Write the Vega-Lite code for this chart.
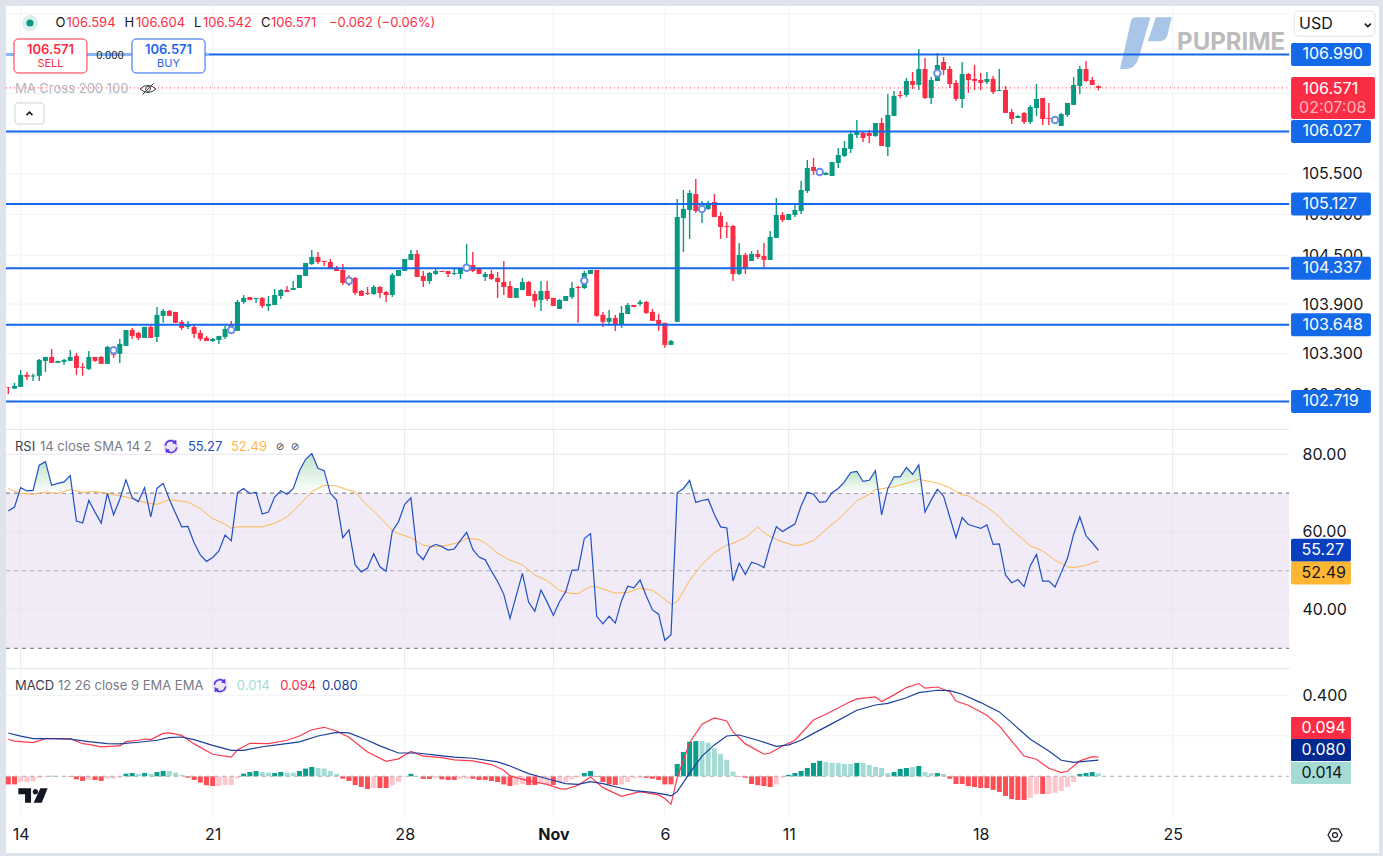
{"$schema":"https://vega.github.io/schema/vega-lite/v6.json","padding":{"left":5,"top":5,"right":5,"bottom":4},"background":"#dfe3ec","spacing":0,"bounds":"flush","config":{"view":{"stroke":null},"concat":{"spacing":0},"text":{"font":"Inter"}},
"datasets":{
"candles":[
{"i":0,"o":102.888,"h":102.894,"l":102.81,"c":102.882},{"i":1,"o":102.873,"h":102.943,"l":102.873,"c":102.907},{"i":2,"o":102.894,"h":103.1,"l":102.894,"c":103.04},{"i":3,"o":103.04,"h":103.076,"l":102.979,"c":103.016},{"i":4,"o":103.02,"h":103.052,"l":102.967,"c":103.032},{"i":5,"o":103.028,"h":103.233,"l":102.967,"c":103.221},{"i":6,"o":103.209,"h":103.257,"l":103.076,"c":103.257},{"i":7,"o":103.257,"h":103.354,"l":103.185,"c":103.185},{"i":8,"o":103.185,"h":103.209,"l":103.185,"c":103.209},{"i":9,"o":103.197,"h":103.233,"l":103.161,"c":103.221},
{"i":10,"o":103.209,"h":103.342,"l":103.209,"c":103.257},{"i":11,"o":103.269,"h":103.306,"l":103.04,"c":103.124},{"i":12,"o":103.136,"h":103.185,"l":103.028,"c":103.124},{"i":13,"o":103.112,"h":103.33,"l":103.1,"c":103.257},{"i":14,"o":103.257,"h":103.257,"l":103.197,"c":103.209},{"i":15,"o":103.257,"h":103.269,"l":103.173,"c":103.173},{"i":16,"o":103.173,"h":103.391,"l":103.173,"c":103.379},{"i":17,"o":103.367,"h":103.379,"l":103.245,"c":103.282},{"i":18,"o":103.294,"h":103.476,"l":103.185,"c":103.415},{"i":19,"o":103.391,"h":103.585,"l":103.391,"c":103.585},
{"i":20,"o":103.585,"h":103.61,"l":103.476,"c":103.512},{"i":21,"o":103.549,"h":103.561,"l":103.463,"c":103.488},{"i":22,"o":103.488,"h":103.622,"l":103.488,"c":103.622},{"i":23,"o":103.622,"h":103.646,"l":103.488,"c":103.488},{"i":24,"o":103.5,"h":103.865,"l":103.439,"c":103.768},{"i":25,"o":103.756,"h":103.841,"l":103.671,"c":103.817},{"i":26,"o":103.817,"h":103.829,"l":103.756,"c":103.756},{"i":27,"o":103.804,"h":103.804,"l":103.671,"c":103.671},{"i":28,"o":103.683,"h":103.707,"l":103.585,"c":103.61},{"i":29,"o":103.622,"h":103.695,"l":103.597,"c":103.646},
{"i":30,"o":103.622,"h":103.646,"l":103.488,"c":103.537},{"i":31,"o":103.549,"h":103.585,"l":103.451,"c":103.476},{"i":32,"o":103.488,"h":103.512,"l":103.451,"c":103.451},{"i":33,"o":103.451,"h":103.488,"l":103.439,"c":103.476},{"i":34,"o":103.463,"h":103.512,"l":103.415,"c":103.512},{"i":35,"o":103.5,"h":103.634,"l":103.476,"c":103.597},{"i":36,"o":103.658,"h":103.695,"l":103.561,"c":103.561},{"i":37,"o":103.573,"h":103.95,"l":103.573,"c":103.926},{"i":38,"o":103.926,"h":104.011,"l":103.902,"c":103.975},{"i":39,"o":103.987,"h":103.987,"l":103.95,"c":103.95},
{"i":40,"o":103.962,"h":103.975,"l":103.914,"c":103.975},{"i":41,"o":103.975,"h":103.987,"l":103.853,"c":103.877},{"i":42,"o":103.877,"h":103.999,"l":103.817,"c":103.902},{"i":43,"o":103.889,"h":104.084,"l":103.889,"c":104.011},{"i":44,"o":103.999,"h":104.084,"l":103.962,"c":104.072},{"i":45,"o":104.072,"h":104.121,"l":104.048,"c":104.048},{"i":46,"o":104.072,"h":104.182,"l":104.072,"c":104.096},{"i":47,"o":104.096,"h":104.256,"l":104.096,"c":104.256},{"i":48,"o":104.244,"h":104.403,"l":104.244,"c":104.403},{"i":49,"o":104.39,"h":104.562,"l":104.378,"c":104.476},
{"i":50,"o":104.476,"h":104.538,"l":104.39,"c":104.415},{"i":51,"o":104.427,"h":104.427,"l":104.366,"c":104.415},{"i":52,"o":104.415,"h":104.452,"l":104.329,"c":104.329},{"i":53,"o":104.341,"h":104.366,"l":104.305,"c":104.305},{"i":54,"o":104.317,"h":104.39,"l":104.133,"c":104.158},{"i":55,"o":104.231,"h":104.256,"l":104.121,"c":104.145},{"i":56,"o":104.219,"h":104.231,"l":104.011,"c":104.036},{"i":57,"o":104.06,"h":104.072,"l":103.999,"c":103.999},{"i":58,"o":104.036,"h":104.109,"l":104.011,"c":104.023},{"i":59,"o":104.023,"h":104.133,"l":104.011,"c":104.109},
{"i":60,"o":104.109,"h":104.121,"l":103.975,"c":104.036},{"i":61,"o":104.048,"h":104.06,"l":103.926,"c":104.011},{"i":62,"o":104.011,"h":104.28,"l":103.987,"c":104.256},{"i":63,"o":104.244,"h":104.317,"l":104.244,"c":104.317},{"i":64,"o":104.305,"h":104.452,"l":104.305,"c":104.452},{"i":65,"o":104.44,"h":104.562,"l":104.44,"c":104.513},{"i":66,"o":104.513,"h":104.562,"l":104.231,"c":104.231},{"i":67,"o":104.244,"h":104.305,"l":104.109,"c":104.182},{"i":68,"o":104.182,"h":104.293,"l":104.145,"c":104.28},{"i":69,"o":104.268,"h":104.329,"l":104.256,"c":104.305},
{"i":70,"o":104.305,"h":104.305,"l":104.293,"c":104.293},{"i":71,"o":104.305,"h":104.305,"l":104.231,"c":104.268},{"i":72,"o":104.268,"h":104.329,"l":104.256,"c":104.28},{"i":73,"o":104.268,"h":104.341,"l":104.207,"c":104.329},{"i":74,"o":104.329,"h":104.636,"l":104.329,"c":104.366},{"i":75,"o":104.378,"h":104.538,"l":104.293,"c":104.305},{"i":76,"o":104.329,"h":104.341,"l":104.268,"c":104.268},{"i":77,"o":104.231,"h":104.293,"l":104.182,"c":104.268},{"i":78,"o":104.268,"h":104.317,"l":104.195,"c":104.207},{"i":79,"o":104.219,"h":104.293,"l":103.975,"c":104.17},
{"i":80,"o":104.17,"h":104.427,"l":104.011,"c":104.109},{"i":81,"o":104.121,"h":104.182,"l":103.975,"c":103.975},{"i":82,"o":103.975,"h":104.096,"l":103.975,"c":104.096},{"i":83,"o":104.072,"h":104.219,"l":104.072,"c":104.17},{"i":84,"o":104.17,"h":104.182,"l":103.999,"c":103.999},{"i":85,"o":104.023,"h":104.06,"l":103.865,"c":103.938},{"i":86,"o":103.95,"h":104.182,"l":103.817,"c":104.06},{"i":87,"o":104.06,"h":104.182,"l":103.938,"c":103.962},{"i":88,"o":103.975,"h":103.975,"l":103.877,"c":103.877},{"i":89,"o":103.841,"h":103.962,"l":103.841,"c":103.95},
{"i":90,"o":103.938,"h":103.999,"l":103.938,"c":103.999},{"i":91,"o":103.987,"h":104.17,"l":103.962,"c":104.096},{"i":92,"o":104.109,"h":104.121,"l":103.671,"c":104.096},{"i":93,"o":104.096,"h":104.305,"l":104.084,"c":104.28},{"i":94,"o":104.268,"h":104.317,"l":104.268,"c":104.317},{"i":95,"o":104.317,"h":104.317,"l":103.744,"c":103.756},{"i":96,"o":103.768,"h":103.804,"l":103.622,"c":103.683},{"i":97,"o":103.683,"h":103.829,"l":103.634,"c":103.731},{"i":98,"o":103.731,"h":103.768,"l":103.573,"c":103.646},{"i":99,"o":103.646,"h":103.877,"l":103.61,"c":103.792},
{"i":100,"o":103.78,"h":103.914,"l":103.78,"c":103.889},{"i":101,"o":103.889,"h":103.889,"l":103.865,"c":103.865},{"i":102,"o":103.902,"h":103.95,"l":103.877,"c":103.926},{"i":103,"o":103.926,"h":103.938,"l":103.78,"c":103.792},{"i":104,"o":103.804,"h":103.841,"l":103.695,"c":103.695},{"i":105,"o":103.707,"h":103.78,"l":103.573,"c":103.646},{"i":106,"o":103.671,"h":103.671,"l":103.367,"c":103.403},{"i":107,"o":103.403,"h":103.463,"l":103.403,"c":103.451},{"i":108,"o":103.683,"h":105.19,"l":103.683,"c":104.968},{"i":109,"o":104.956,"h":105.301,"l":104.538,"c":105.067},
{"i":110,"o":105.054,"h":105.301,"l":104.698,"c":105.264},{"i":111,"o":105.252,"h":105.438,"l":105.017,"c":105.042},{"i":112,"o":105.042,"h":105.165,"l":104.894,"c":105.116},{"i":113,"o":105.067,"h":105.165,"l":105.054,"c":105.129},{"i":114,"o":105.153,"h":105.252,"l":104.968,"c":104.968},{"i":115,"o":104.98,"h":105.03,"l":104.698,"c":104.845},{"i":116,"o":104.857,"h":104.906,"l":104.71,"c":104.845},{"i":117,"o":104.857,"h":104.87,"l":104.182,"c":104.268},{"i":118,"o":104.268,"h":104.648,"l":104.256,"c":104.501},{"i":119,"o":104.501,"h":104.525,"l":104.268,"c":104.329},
{"i":120,"o":104.427,"h":104.55,"l":104.427,"c":104.513},{"i":121,"o":104.513,"h":104.562,"l":104.452,"c":104.476},{"i":122,"o":104.489,"h":104.648,"l":104.341,"c":104.44},{"i":123,"o":104.44,"h":104.796,"l":104.44,"c":104.722},{"i":124,"o":104.71,"h":105.202,"l":104.71,"c":104.993},{"i":125,"o":104.993,"h":105.03,"l":104.906,"c":104.931},{"i":126,"o":104.931,"h":105.005,"l":104.931,"c":105.005},{"i":127,"o":104.993,"h":105.14,"l":104.968,"c":105.054},{"i":128,"o":105.042,"h":105.413,"l":105.005,"c":105.301},{"i":129,"o":105.289,"h":105.673,"l":105.264,"c":105.574},
{"i":130,"o":105.586,"h":105.698,"l":105.487,"c":105.537},{"i":131,"o":105.512,"h":105.549,"l":105.5,"c":105.537},{"i":132,"o":105.487,"h":105.524,"l":105.487,"c":105.512},{"i":133,"o":105.475,"h":105.648,"l":105.475,"c":105.648},{"i":134,"o":105.636,"h":105.822,"l":105.574,"c":105.735},{"i":135,"o":105.723,"h":105.909,"l":105.71,"c":105.822},{"i":136,"o":105.81,"h":106.045,"l":105.76,"c":105.996},{"i":137,"o":105.983,"h":106.17,"l":105.946,"c":106.02},{"i":138,"o":106.008,"h":106.033,"l":105.897,"c":105.946},{"i":139,"o":106.008,"h":106.045,"l":105.884,"c":105.971},
{"i":140,"o":105.971,"h":106.133,"l":105.959,"c":106.133},{"i":141,"o":106.133,"h":106.195,"l":105.847,"c":105.847},{"i":142,"o":105.835,"h":106.496,"l":105.723,"c":106.233},{"i":143,"o":106.22,"h":106.533,"l":106.22,"c":106.471},{"i":144,"o":106.483,"h":106.533,"l":106.445,"c":106.471},{"i":145,"o":106.483,"h":106.695,"l":106.458,"c":106.658},{"i":146,"o":106.658,"h":106.77,"l":106.558,"c":106.608},{"i":147,"o":106.608,"h":107.059,"l":106.545,"c":106.808},{"i":148,"o":106.808,"h":106.946,"l":106.433,"c":106.445},{"i":149,"o":106.445,"h":106.708,"l":106.37,"c":106.67},
{"i":150,"o":106.658,"h":107.009,"l":106.658,"c":106.858},{"i":151,"o":106.896,"h":106.958,"l":106.733,"c":106.795},{"i":152,"o":106.808,"h":106.846,"l":106.57,"c":106.62},{"i":153,"o":106.633,"h":106.67,"l":106.408,"c":106.433},{"i":154,"o":106.433,"h":106.896,"l":106.32,"c":106.745},{"i":155,"o":106.745,"h":106.758,"l":106.508,"c":106.67},{"i":156,"o":106.683,"h":106.858,"l":106.545,"c":106.658},{"i":157,"o":106.67,"h":106.758,"l":106.545,"c":106.633},{"i":158,"o":106.645,"h":106.77,"l":106.62,"c":106.683},{"i":159,"o":106.683,"h":106.72,"l":106.495,"c":106.52},
{"i":160,"o":106.533,"h":106.808,"l":106.533,"c":106.545},{"i":161,"o":106.545,"h":106.595,"l":106.258,"c":106.258},{"i":162,"o":106.27,"h":106.308,"l":106.12,"c":106.183},{"i":163,"o":106.195,"h":106.233,"l":106.195,"c":106.22},{"i":164,"o":106.258,"h":106.27,"l":106.12,"c":106.145},{"i":165,"o":106.145,"h":106.358,"l":106.12,"c":106.333},{"i":166,"o":106.32,"h":106.62,"l":106.22,"c":106.433},{"i":167,"o":106.445,"h":106.445,"l":106.108,"c":106.183},{"i":168,"o":106.195,"h":106.383,"l":106.108,"c":106.183},{"i":169,"o":106.183,"h":106.208,"l":106.133,"c":106.145},
{"i":170,"o":106.095,"h":106.258,"l":106.095,"c":106.245},{"i":171,"o":106.233,"h":106.383,"l":106.208,"c":106.383},{"i":172,"o":106.358,"h":106.708,"l":106.358,"c":106.608},{"i":173,"o":106.595,"h":106.846,"l":106.495,"c":106.808},{"i":174,"o":106.808,"h":106.908,"l":106.645,"c":106.658},{"i":175,"o":106.67,"h":106.708,"l":106.608,"c":106.608},{"i":176,"o":106.594,"h":106.604,"l":106.542,"c":106.571}],
"rsi":[{"i":0,"v":65.4},{"i":1,"v":66.4},{"i":2,"v":71.4},{"i":3,"v":70.55},{"i":4,"v":70.7},{"i":5,"v":77.2},{"i":6,"v":78.1},{"i":7,"v":72},{"i":8,"v":72.5},{"i":9,"v":72.9},{"i":10,"v":74.5},{"i":11,"v":62.8},{"i":12,"v":62.3},{"i":13,"v":68.1},{"i":14,"v":65.1},{"i":15,"v":62.3},{"i":16,"v":69.95},{"i":17,"v":64.4},{"i":18,"v":68.4},{"i":19,"v":73.4},{"i":20,"v":68.8},{"i":21,"v":67.8},{"i":22,"v":71.4},{"i":23,"v":63.85},{"i":24,"v":71.2},{"i":25,"v":72.5},{"i":26,"v":68.4},{"i":27,"v":64.8},{"i":28,"v":61.3},{"i":29,"v":61.4},{"i":30,"v":57.2},{"i":31,"v":54.05},{"i":32,"v":52.4},{"i":33,"v":53.4},{"i":34,"v":55.1},{"i":35,"v":59.2},{"i":36,"v":57.7},{"i":37,"v":70.1},{"i":38,"v":71.2},{"i":39,"v":69.9},{"i":40,"v":70.2},{"i":41,"v":64.6},{"i":42,"v":65.1},{"i":43,"v":69},{"i":44,"v":70.6},{"i":45,"v":69.7},{"i":46,"v":71.15},{"i":47,"v":75.7},{"i":48,"v":78.7},{"i":49,"v":80.2},{"i":50,"v":76.4},{"i":51,"v":75.8},{"i":52,"v":69.95},{"i":53,"v":68.2},{"i":54,"v":58.5},{"i":55,"v":60.5},{"i":56,"v":51.5},{"i":57,"v":49.7},{"i":58,"v":50.7},{"i":59,"v":54.4},{"i":60,"v":51},{"i":61,"v":49.85},{"i":62,"v":60.2},{"i":63,"v":62.6},{"i":64,"v":67.1},{"i":65,"v":68.8},{"i":66,"v":54.5},{"i":67,"v":52.85},{"i":68,"v":55.95},{"i":69,"v":56.8},{"i":70,"v":56.2},{"i":71,"v":55.3},{"i":72,"v":55.6},{"i":73,"v":57.8},{"i":74,"v":59.9},{"i":75,"v":55.5},{"i":76,"v":53.5},{"i":77,"v":52.8},{"i":78,"v":49.9},{"i":79,"v":47.2},{"i":80,"v":43.9},{"i":81,"v":37.7},{"i":82,"v":43.5},{"i":83,"v":49.3},{"i":84,"v":41.9},{"i":85,"v":39.5},{"i":86,"v":45},{"i":87,"v":41.9},{"i":88,"v":38.5},{"i":89,"v":42},{"i":90,"v":44.6},{"i":91,"v":50.1},{"i":92,"v":50.2},{"i":93,"v":58.3},{"i":94,"v":59.55},{"i":95,"v":38.25},{"i":96,"v":36.3},{"i":97,"v":38.25},{"i":98,"v":36.5},{"i":99,"v":42.2},{"i":100,"v":46},{"i":101,"v":45.6},{"i":102,"v":47.6},{"i":103,"v":43.5},{"i":104,"v":39.9},{"i":105,"v":38.8},{"i":106,"v":32.06},{"i":107,"v":33.5},{"i":108,"v":70.1},{"i":109,"v":71.2},{"i":110,"v":73.3},{"i":111,"v":67.6},{"i":112,"v":68.1},{"i":113,"v":68.4},{"i":114,"v":64.5},{"i":115,"v":61.3},{"i":116,"v":61},{"i":117,"v":47.35},{"i":118,"v":51.9},{"i":119,"v":49},{"i":120,"v":52.2},{"i":121,"v":51.65},{"i":122,"v":50.8},{"i":123,"v":56.6},{"i":124,"v":61.3},{"i":125,"v":60.1},{"i":126,"v":61.1},{"i":127,"v":62},{"i":128,"v":66.7},{"i":129,"v":70.2},{"i":130,"v":69.7},{"i":131,"v":67.6},{"i":132,"v":67.8},{"i":133,"v":70.1},{"i":134,"v":71.2},{"i":135,"v":72.9},{"i":136,"v":75.3},{"i":137,"v":75.6},{"i":138,"v":73},{"i":139,"v":73.3},{"i":140,"v":75.8},{"i":141,"v":64.4},{"i":142,"v":71.2},{"i":143,"v":74.2},{"i":144,"v":74.2},{"i":145,"v":76.6},{"i":146,"v":74.85},{"i":147,"v":77.25},{"i":148,"v":65.1},{"i":149,"v":68.2},{"i":150,"v":71},{"i":151,"v":69.2},{"i":152,"v":63.85},{"i":153,"v":58.5},{"i":154,"v":63.7},{"i":155,"v":61.9},{"i":156,"v":61.4},{"i":157,"v":60.9},{"i":158,"v":61.8},{"i":159,"v":56.8},{"i":160,"v":56.9},{"i":161,"v":48.9},{"i":162,"v":46.9},{"i":163,"v":47.7},{"i":164,"v":45.9},{"i":165,"v":51.3},{"i":166,"v":54.2},{"i":167,"v":47.3},{"i":168,"v":47.3},{"i":169,"v":45.8},{"i":170,"v":49.5},{"i":171,"v":53.2},{"i":172,"v":59.4},{"i":173,"v":63.85},{"i":174,"v":59},{"i":175,"v":57.2},{"i":176,"v":55.27}],
"sma":[{"i":0,"v":71.2},{"i":1,"v":70.46},{"i":2,"v":69.95},{"i":4,"v":69.7},{"i":6,"v":70.3},{"i":8,"v":69.95},{"i":10,"v":70.9},{"i":12,"v":70.2},{"i":14,"v":70.4},{"i":16,"v":69.9},{"i":19,"v":69},{"i":21,"v":68},{"i":23,"v":67.3},{"i":24,"v":67.1},{"i":26,"v":68.3},{"i":29,"v":67.7},{"i":31,"v":66},{"i":33,"v":63.4},{"i":35,"v":62},{"i":36,"v":60.9},{"i":37,"v":61.3},{"i":41,"v":61.3},{"i":43,"v":62.2},{"i":45,"v":63.85},{"i":47,"v":66.9},{"i":49,"v":70.4},{"i":51,"v":72},{"i":53,"v":71.85},{"i":55,"v":70.7},{"i":56,"v":70.4},{"i":58,"v":66.7},{"i":59,"v":65.4},{"i":62,"v":60.4},{"i":63,"v":59.55},{"i":65,"v":58.5},{"i":67,"v":56.55},{"i":69,"v":56.2},{"i":71,"v":56.6},{"i":73,"v":57.4},{"i":74,"v":58.35},{"i":76,"v":58},{"i":77,"v":57.2},{"i":79,"v":54.5},{"i":81,"v":52.7},{"i":83,"v":51.5},{"i":85,"v":48.9},{"i":87,"v":47.4},{"i":89,"v":44.9},{"i":91,"v":44.1},{"i":92,"v":44.1},{"i":94,"v":46},{"i":95,"v":45.8},{"i":98,"v":44.2},{"i":100,"v":44.4},{"i":102,"v":45.5},{"i":104,"v":44.9},{"i":105,"v":43.9},{"i":107,"v":41.3},{"i":108,"v":42},{"i":110,"v":47.5},{"i":112,"v":51.65},{"i":114,"v":54.65},{"i":116,"v":56.6},{"i":117,"v":57.05},{"i":119,"v":58.5},{"i":121,"v":61.3},{"i":122,"v":59.8},{"i":123,"v":58.8},{"i":125,"v":57.4},{"i":127,"v":56.5},{"i":128,"v":56.6},{"i":130,"v":57.75},{"i":133,"v":62},{"i":134,"v":63.25},{"i":137,"v":68},{"i":139,"v":69.7},{"i":140,"v":70.9},{"i":143,"v":71.6},{"i":146,"v":73},{"i":147,"v":73.55},{"i":150,"v":72.6},{"i":152,"v":71.4},{"i":154,"v":69.5},{"i":155,"v":69.3},{"i":158,"v":66.4},{"i":160,"v":63.9},{"i":161,"v":61.95},{"i":163,"v":59.2},{"i":165,"v":56.4},{"i":167,"v":55.1},{"i":169,"v":52.7},{"i":171,"v":51},{"i":172,"v":50.8},{"i":174,"v":51.4},{"i":176,"v":52.49}],
"over":[{"s":"a","i":1.72,"v":70},{"s":"a","i":2,"v":71.4},{"s":"a","i":3,"v":70.55},{"s":"a","i":4,"v":70.7},{"s":"a","i":5,"v":77.2},{"s":"a","i":6,"v":78.1},{"s":"a","i":7,"v":72},{"s":"a","i":8,"v":72.5},{"s":"a","i":9,"v":72.9},{"s":"a","i":10,"v":74.5},{"s":"a","i":10.38,"v":70},{"s":"b","i":45.2,"v":70},{"s":"b","i":46,"v":71.15},{"s":"b","i":47,"v":75.7},{"s":"b","i":48,"v":78.7},{"s":"b","i":49,"v":80.2},{"s":"b","i":50,"v":76.4},{"s":"b","i":51,"v":75.8},{"s":"b","i":52,"v":70},{"s":"c","i":133,"v":70},{"s":"c","i":134,"v":71.2},{"s":"c","i":135,"v":72.9},{"s":"c","i":136,"v":75.3},{"s":"c","i":137,"v":75.6},{"s":"c","i":138,"v":73},{"s":"c","i":139,"v":73.3},{"s":"c","i":140,"v":75.8},{"s":"c","i":140.5,"v":70},{"s":"d","i":141.85,"v":70},{"s":"d","i":142,"v":71.2},{"s":"d","i":143,"v":74.2},{"s":"d","i":144,"v":74.2},{"s":"d","i":145,"v":76.6},{"s":"d","i":146,"v":74.85},{"s":"d","i":147,"v":77.25},{"s":"d","i":147.6,"v":70},{"s":"e","i":107.97,"v":70},{"s":"e","i":108,"v":70.1},{"s":"e","i":109,"v":71.2},{"s":"e","i":110,"v":73.3},{"s":"e","i":110.5,"v":70}],
"macd":[{"i":0,"v":0.183},{"i":1,"v":0.174},{"i":2,"v":0.171},{"i":4,"v":0.166},{"i":6,"v":0.186},{"i":10,"v":0.186},{"i":12,"v":0.161},{"i":13,"v":0.158},{"i":15,"v":0.145},{"i":18,"v":0.15},{"i":19,"v":0.171},{"i":21,"v":0.178},{"i":22,"v":0.184},{"i":23,"v":0.181},{"i":25,"v":0.212},{"i":26,"v":0.214},{"i":28,"v":0.202},{"i":30,"v":0.16},{"i":33,"v":0.109},{"i":36,"v":0.095},{"i":37,"v":0.13},{"i":39,"v":0.163},{"i":42,"v":0.161},{"i":45,"v":0.178},{"i":47,"v":0.199},{"i":49,"v":0.23},{"i":51,"v":0.242},{"i":53,"v":0.224},{"i":55,"v":0.193},{"i":58,"v":0.12},{"i":61,"v":0.074},{"i":63,"v":0.086},{"i":65,"v":0.123},{"i":67,"v":0.1},{"i":70,"v":0.092},{"i":72,"v":0.081},{"i":75,"v":0.076},{"i":78,"v":0.058},{"i":80,"v":0.03},{"i":81,"v":0.002},{"i":84,"v":-0.023},{"i":87,"v":-0.04},{"i":89,"v":-0.061},{"i":90,"v":-0.063},{"i":92,"v":-0.044},{"i":94,"v":-0.003},{"i":96,"v":-0.056},{"i":99,"v":-0.099},{"i":102,"v":-0.076},{"i":105,"v":-0.092},{"i":106,"v":-0.11},{"i":107,"v":-0.138},{"i":108,"v":-0.007},{"i":110,"v":0.166},{"i":112,"v":0.257},{"i":114,"v":0.288},{"i":116,"v":0.273},{"i":117,"v":0.219},{"i":119,"v":0.16},{"i":122,"v":0.109},{"i":123,"v":0.115},{"i":125,"v":0.15},{"i":127,"v":0.178},{"i":130,"v":0.278},{"i":132,"v":0.306},{"i":136,"v":0.369},{"i":137,"v":0.382},{"i":140,"v":0.392},{"i":141,"v":0.369},{"i":143,"v":0.402},{"i":145,"v":0.438},{"i":147,"v":0.458},{"i":148,"v":0.435},{"i":150,"v":0.441},{"i":152,"v":0.418},{"i":153,"v":0.372},{"i":155,"v":0.351},{"i":158,"v":0.301},{"i":160,"v":0.249},{"i":162,"v":0.174},{"i":164,"v":0.1},{"i":166,"v":0.084},{"i":168,"v":0.04},{"i":170,"v":0.018},{"i":171,"v":0.025},{"i":173,"v":0.076},{"i":175,"v":0.097},{"i":176,"v":0.094}],
"signal":[{"i":0,"v":0.214},{"i":2,"v":0.198},{"i":4,"v":0.186},{"i":7,"v":0.186},{"i":10,"v":0.184},{"i":13,"v":0.171},{"i":16,"v":0.161},{"i":18,"v":0.16},{"i":21,"v":0.168},{"i":24,"v":0.178},{"i":26,"v":0.191},{"i":28,"v":0.194},{"i":30,"v":0.181},{"i":33,"v":0.153},{"i":36,"v":0.128},{"i":38,"v":0.128},{"i":41,"v":0.146},{"i":44,"v":0.158},{"i":47,"v":0.17},{"i":50,"v":0.199},{"i":53,"v":0.217},{"i":55,"v":0.214},{"i":58,"v":0.178},{"i":60,"v":0.15},{"i":63,"v":0.115},{"i":66,"v":0.115},{"i":69,"v":0.105},{"i":72,"v":0.095},{"i":75,"v":0.089},{"i":79,"v":0.071},{"i":81,"v":0.051},{"i":84,"v":0.013},{"i":87,"v":-0.012},{"i":90,"v":-0.036},{"i":92,"v":-0.04},{"i":94,"v":-0.026},{"i":96,"v":-0.036},{"i":99,"v":-0.059},{"i":101,"v":-0.071},{"i":104,"v":-0.079},{"i":106,"v":-0.089},{"i":107,"v":-0.097},{"i":108,"v":-0.076},{"i":110,"v":0.016},{"i":112,"v":0.1},{"i":114,"v":0.155},{"i":116,"v":0.199},{"i":118,"v":0.204},{"i":121,"v":0.178},{"i":124,"v":0.148},{"i":126,"v":0.155},{"i":128,"v":0.178},{"i":130,"v":0.212},{"i":133,"v":0.26},{"i":137,"v":0.326},{"i":140,"v":0.352},{"i":142,"v":0.36},{"i":145,"v":0.388},{"i":147,"v":0.413},{"i":150,"v":0.425},{"i":152,"v":0.423},{"i":154,"v":0.405},{"i":157,"v":0.364},{"i":160,"v":0.318},{"i":162,"v":0.265},{"i":165,"v":0.183},{"i":168,"v":0.125},{"i":170,"v":0.079},{"i":172,"v":0.069},{"i":176,"v":0.08}],
"hist":[{"i":0,"v":-0.04,"s":"R"},{"i":1,"v":-0.04,"s":"R"},{"i":2,"v":-0.028,"s":"P"},{"i":3,"v":-0.028,"s":"P"},{"i":4,"v":-0.025,"s":"P"},{"i":5,"v":-0.007,"s":"P"},{"i":6,"v":-0.003,"s":"P"},{"i":7,"v":0.002,"s":"G"},{"i":8,"v":0.002,"s":"L"},{"i":9,"v":-0.002,"s":"P"},{"i":10,"v":-0.002,"s":"R"},{"i":11,"v":-0.015,"s":"R"},{"i":12,"v":-0.023,"s":"R"},{"i":13,"v":-0.016,"s":"P"},{"i":14,"v":-0.018,"s":"R"},{"i":15,"v":-0.023,"s":"R"},{"i":16,"v":-0.012,"s":"P"},{"i":17,"v":-0.012,"s":"P"},{"i":18,"v":-0.007,"s":"P"},{"i":19,"v":0.013,"s":"G"},{"i":20,"v":0.016,"s":"G"},{"i":21,"v":0.012,"s":"L"},{"i":22,"v":0.016,"s":"G"},{"i":23,"v":0.012,"s":"L"},{"i":24,"v":0.021,"s":"G"},{"i":25,"v":0.026,"s":"G"},{"i":26,"v":0.026,"s":"L"},{"i":27,"v":0.018,"s":"L"},{"i":28,"v":0.007,"s":"L"},{"i":29,"v":-0.007,"s":"R"},{"i":30,"v":-0.018,"s":"R"},{"i":31,"v":-0.031,"s":"R"},{"i":32,"v":-0.044,"s":"R"},{"i":33,"v":-0.048,"s":"R"},{"i":34,"v":-0.048,"s":"P"},{"i":35,"v":-0.043,"s":"P"},{"i":36,"v":-0.043,"s":"P"},{"i":37,"v":-0.01,"s":"P"},{"i":38,"v":0.013,"s":"G"},{"i":39,"v":0.021,"s":"G"},{"i":40,"v":0.026,"s":"G"},{"i":41,"v":0.021,"s":"L"},{"i":42,"v":0.018,"s":"L"},{"i":43,"v":0.016,"s":"G"},{"i":44,"v":0.021,"s":"G"},{"i":45,"v":0.018,"s":"L"},{"i":46,"v":0.018,"s":"L"},{"i":47,"v":0.026,"s":"G"},{"i":48,"v":0.038,"s":"G"},{"i":49,"v":0.046,"s":"G"},{"i":50,"v":0.041,"s":"L"},{"i":51,"v":0.038,"s":"L"},{"i":52,"v":0.026,"s":"L"},{"i":53,"v":0.012,"s":"L"},{"i":54,"v":-0.012,"s":"R"},{"i":55,"v":-0.023,"s":"R"},{"i":56,"v":-0.043,"s":"R"},{"i":57,"v":-0.053,"s":"R"},{"i":58,"v":-0.063,"s":"R"},{"i":59,"v":-0.058,"s":"P"},{"i":60,"v":-0.058,"s":"R"},{"i":61,"v":-0.058,"s":"R"},{"i":62,"v":-0.044,"s":"P"},{"i":63,"v":-0.028,"s":"P"},{"i":64,"v":-0.003,"s":"P"},{"i":65,"v":0.012,"s":"G"},{"i":66,"v":-0.001,"s":"R"},{"i":67,"v":-0.013,"s":"R"},{"i":68,"v":-0.013,"s":"R"},{"i":69,"v":-0.01,"s":"P"},{"i":70,"v":-0.015,"s":"R"},{"i":71,"v":-0.018,"s":"R"},{"i":72,"v":-0.018,"s":"R"},{"i":73,"v":-0.012,"s":"P"},{"i":74,"v":-0.012,"s":"P"},{"i":75,"v":-0.012,"s":"R"},{"i":76,"v":-0.018,"s":"R"},{"i":77,"v":-0.018,"s":"R"},{"i":78,"v":-0.023,"s":"R"},{"i":79,"v":-0.028,"s":"R"},{"i":80,"v":-0.04,"s":"R"},{"i":81,"v":-0.048,"s":"R"},{"i":82,"v":-0.043,"s":"P"},{"i":83,"v":-0.038,"s":"P"},{"i":84,"v":-0.043,"s":"R"},{"i":85,"v":-0.043,"s":"R"},{"i":86,"v":-0.031,"s":"P"},{"i":87,"v":-0.04,"s":"P"},{"i":88,"v":-0.043,"s":"R"},{"i":89,"v":-0.028,"s":"P"},{"i":90,"v":-0.028,"s":"P"},{"i":91,"v":-0.015,"s":"P"},{"i":92,"v":-0.007,"s":"P"},{"i":93,"v":0.016,"s":"G"},{"i":94,"v":0.026,"s":"G"},{"i":95,"v":-0.003,"s":"R"},{"i":96,"v":-0.028,"s":"R"},{"i":97,"v":-0.04,"s":"R"},{"i":98,"v":-0.043,"s":"R"},{"i":99,"v":-0.04,"s":"P"},{"i":100,"v":-0.028,"s":"P"},{"i":101,"v":-0.01,"s":"P"},{"i":102,"v":-0.007,"s":"P"},{"i":103,"v":-0.008,"s":"R"},{"i":104,"v":-0.012,"s":"R"},{"i":105,"v":-0.018,"s":"R"},{"i":106,"v":-0.04,"s":"R"},{"i":107,"v":-0.04,"s":"R"},{"i":108,"v":0.061,"s":"G"},{"i":109,"v":0.12,"s":"G"},{"i":110,"v":0.171,"s":"G"},{"i":111,"v":0.174,"s":"G"},{"i":112,"v":0.174,"s":"L"},{"i":113,"v":0.166,"s":"L"},{"i":114,"v":0.138,"s":"L"},{"i":115,"v":0.11,"s":"L"},{"i":116,"v":0.081,"s":"L"},{"i":117,"v":0.023,"s":"L"},{"i":118,"v":-0.002,"s":"R"},{"i":119,"v":-0.007,"s":"R"},{"i":120,"v":-0.038,"s":"R"},{"i":121,"v":-0.044,"s":"R"},{"i":122,"v":-0.048,"s":"R"},{"i":123,"v":-0.053,"s":"R"},{"i":124,"v":-0.04,"s":"P"},{"i":125,"v":-0.007,"s":"P"},{"i":126,"v":0.007,"s":"G"},{"i":127,"v":0.016,"s":"G"},{"i":128,"v":0.026,"s":"G"},{"i":129,"v":0.041,"s":"G"},{"i":130,"v":0.066,"s":"G"},{"i":131,"v":0.076,"s":"G"},{"i":132,"v":0.071,"s":"L"},{"i":133,"v":0.066,"s":"L"},{"i":134,"v":0.066,"s":"L"},{"i":135,"v":0.061,"s":"L"},{"i":136,"v":0.061,"s":"L"},{"i":137,"v":0.066,"s":"G"},{"i":138,"v":0.066,"s":"L"},{"i":139,"v":0.056,"s":"L"},{"i":140,"v":0.046,"s":"L"},{"i":141,"v":0.041,"s":"L"},{"i":142,"v":0.016,"s":"L"},{"i":143,"v":0.021,"s":"G"},{"i":144,"v":0.036,"s":"G"},{"i":145,"v":0.041,"s":"G"},{"i":146,"v":0.046,"s":"L"},{"i":147,"v":0.051,"s":"G"},{"i":148,"v":0.021,"s":"L"},{"i":149,"v":0.016,"s":"L"},{"i":150,"v":0.016,"s":"G"},{"i":151,"v":0.012,"s":"L"},{"i":152,"v":-0.012,"s":"R"},{"i":153,"v":-0.038,"s":"R"},{"i":154,"v":-0.038,"s":"R"},{"i":155,"v":-0.048,"s":"R"},{"i":156,"v":-0.053,"s":"R"},{"i":157,"v":-0.058,"s":"R"},{"i":158,"v":-0.058,"s":"R"},{"i":159,"v":-0.067,"s":"R"},{"i":160,"v":-0.077,"s":"R"},{"i":161,"v":-0.097,"s":"R"},{"i":162,"v":-0.112,"s":"R"},{"i":163,"v":-0.117,"s":"R"},{"i":164,"v":-0.117,"s":"R"},{"i":165,"v":-0.107,"s":"P"},{"i":166,"v":-0.087,"s":"P"},{"i":167,"v":-0.087,"s":"R"},{"i":168,"v":-0.087,"s":"P"},{"i":169,"v":-0.082,"s":"P"},{"i":170,"v":-0.072,"s":"P"},{"i":171,"v":-0.053,"s":"P"},{"i":172,"v":-0.028,"s":"P"},{"i":173,"v":0.012,"s":"G"},{"i":174,"v":0.016,"s":"G"},{"i":175,"v":0.021,"s":"G"},{"i":176,"v":0.014,"s":"L"}],
"dates":[{"i":2},{"i":33},{"i":64},{"i":88},{"i":106},{"i":126},{"i":157},{"i":188}],
"levels":[{"v":106.99},{"v":106.027},{"v":105.127},{"v":104.337},{"v":103.648},{"v":102.719}]
},
"vconcat":[
{"width":1373,"height":423,"view":{"fill":"#ffffff","stroke":null},"resolve":{"scale":{"color":"independent"}},"layer":[
{"data":{"values":[{"v":107.5},{"v":107},{"v":106.5},{"v":106},{"v":105.5},{"v":105},{"v":104.5},{"v":103.9},{"v":103.3},{"v":102.8}]},"mark":{"type":"rule","color":"#f0f1f4","strokeWidth":1},"encoding":{"x":{"datum":-0.37,"type":"quantitative","scale":{"domain":[-0.37,221.3],"nice":false,"zero":false,"padding":0},"axis":null},"x2":{"datum":206.8},"y":{"field":"v","type":"quantitative","scale":{"type":"log","domain":[102.387,107.601],"nice":false,"zero":false},"axis":{"orient":"right","title":null,"values":[105.5,105,104.5,103.9,103.3,102.8],"format":".3f","domain":false,"ticks":false,"grid":false,"labelAlign":"left","labelPadding":-77,"labelFont":"Inter","labelFontSize":16,"labelColor":"#131722","labelOverlap":false,"labelBound":false,"labelFlush":false}}}},
{"data":{"name":"dates"},"mark":{"type":"rule","color":"#f0f1f4","strokeWidth":1},"encoding":{"x":{"field":"i","type":"quantitative","axis":null}}},
{"data":{"values":[{"v":107.32,"x":"a"}]},"mark":{"type":"point","shape":"M-1,.99 L-.58,-.85 Q-.55,-1 -.4,-1 L.17,-1 L-.26,.5 Q-.4,.99 -.75,.99 Z M.38,-1 L.99,-1 L.83,-.33 Q.75,-.08 .5,-.08 L.07,-.08 Z","size":2704,"filled":true,"color":"#a9c6e8","opacity":1},"encoding":{"x":{"datum":221.3,"type":"quantitative","axis":null},"xOffset":{"value":-233},"y":{"datum":107.13,"type":"quantitative"}}},
{"data":{"values":[{"i":188.7,"v":107.13,"t":"PUPRIME"}]},"mark":{"type":"text","align":"left","baseline":"middle","font":"Inter","fontSize":24,"fontWeight":700,"color":"#bcbcbc"},"encoding":{"x":{"field":"i","type":"quantitative","axis":null},"y":{"field":"v","type":"quantitative"},"text":{"field":"t"}}},
{"data":{"name":"candles"},"mark":{"type":"rule","strokeWidth":1.4},"encoding":{"x":{"field":"i","type":"quantitative","axis":null},"y":{"field":"l","type":"quantitative"},"y2":{"field":"h"},"color":{"condition":{"test":"datum.c>=datum.o","value":"#089981"},"value":"#fb2d45"}}},
{"data":{"name":"candles"},"mark":{"type":"bar","size":5,"orient":"vertical"},"encoding":{"x":{"field":"i","type":"quantitative","axis":null},"y":{"field":"o","type":"quantitative"},"y2":{"field":"c"},"color":{"condition":{"test":"datum.c>=datum.o","value":"#089981"},"value":"#fb2d45"}}},
{"data":{"values":[{"v":106.571}]},"mark":{"type":"rule","color":"#f23645","strokeWidth":1,"strokeDash":[1,3]},"encoding":{"x":{"datum":-0.37,"type":"quantitative","axis":null},"x2":{"datum":206.8},"y":{"field":"v","type":"quantitative"}}},
{"data":{"name":"levels"},"mark":{"type":"rule","color":"#1469e8","strokeWidth":2},"encoding":{"x":{"datum":-0.37,"type":"quantitative","axis":null},"x2":{"datum":206.8},"y":{"field":"v","type":"quantitative"}}},
{"data":{"values":[{"v":106.99}]},"mark":{"type":"rule","color":"#8fb9f3","strokeWidth":2},"encoding":{"x":{"datum":-0.37,"type":"quantitative","axis":null},"x2":{"datum":32.4},"y":{"field":"v","type":"quantitative"}}},
{"data":{"values":[{"i":17,"v":103.338},{"i":36,"v":103.585},{"i":55,"v":104.186},{"i":74,"v":104.345},{"i":93,"v":104.186},{"i":112,"v":105.067},{"i":131,"v":105.524},{"i":150,"v":106.755},{"i":169,"v":106.17}]},"mark":{"type":"point","filled":false,"size":42,"stroke":"#6c8fe8","strokeWidth":2,"fill":"#ffffff","fillOpacity":1,"opacity":1},"encoding":{"x":{"field":"i","type":"quantitative","axis":null},"y":{"field":"v","type":"quantitative"}}},
{"data":{"name":"levels"},"mark":{"type":"rect","height":23,"color":"#1469e8","cornerRadius":2},"encoding":{"x":{"datum":207.1,"type":"quantitative","axis":null},"x2":{"datum":220},"y":{"field":"v","type":"quantitative"}}},
{"data":{"name":"levels"},"mark":{"type":"text","align":"left","baseline":"middle","font":"Inter","fontSize":16,"color":"#ffffff"},"encoding":{"x":{"datum":208.95,"type":"quantitative","axis":null},"y":{"field":"v","type":"quantitative"},"text":{"field":"v","format":".3f"}}},
{"data":{"values":[{"v":106.445}]},"mark":{"type":"rect","height":42,"color":"#fb2d45","cornerRadius":2},"encoding":{"x":{"datum":207.1,"type":"quantitative","axis":null},"x2":{"datum":220.65},"y":{"field":"v","type":"quantitative"}}},
{"data":{"values":[{"v":106.558,"t":"106.571"}]},"mark":{"type":"text","align":"left","baseline":"middle","font":"Inter","fontSize":16,"color":"#ffffff"},"encoding":{"x":{"datum":208.95,"type":"quantitative","axis":null},"y":{"field":"v","type":"quantitative"},"text":{"field":"t"}}},
{"data":{"values":[{"v":106.326,"t":"02:07:08"}]},"mark":{"type":"text","align":"left","baseline":"middle","font":"Inter","fontSize":16,"color":"#ffb3bc"},"encoding":{"x":{"datum":208.4,"type":"quantitative","axis":null},"y":{"field":"v","type":"quantitative"},"text":{"field":"t"}}},
{"data":{"values":[{"k":"usd"}]},"mark":{"type":"rect","fill":"#ffffff","stroke":"#dde1e8","strokeWidth":1,"cornerRadius":4},"encoding":{"x":{"datum":207.6,"type":"quantitative","axis":null},"x2":{"datum":220.65},"y":{"datum":107.538,"type":"quantitative"},"y2":{"datum":107.22}}},
{"data":{"values":[{"i":208.4,"v":107.372,"t":"USD"}]},"mark":{"type":"text","align":"left","baseline":"middle","font":"Inter","fontSize":16,"color":"#131722"},"encoding":{"x":{"field":"i","type":"quantitative","axis":null},"y":{"field":"v","type":"quantitative"},"text":{"field":"t"}}},
{"data":{"values":[{"i":219.5,"v":107.36}]},"mark":{"type":"point","shape":"M-1,-.5 L0,.5 L1,-.5","size":36,"filled":false,"stroke":"#131722","strokeWidth":1.5,"opacity":1},"encoding":{"x":{"field":"i","type":"quantitative","axis":null},"y":{"field":"v","type":"quantitative"}}},
{"data":{"values":[{"a":0.92,"b":12.7,"k":"sell"},{"a":19.97,"b":31.76,"k":"buy"}]},"mark":{"type":"rect","fill":"#ffffff","strokeWidth":1,"cornerRadius":4},"encoding":{"x":{"field":"a","type":"quantitative","axis":null},"x2":{"field":"b"},"y":{"datum":107.185,"type":"quantitative"},"y2":{"datum":106.758},"stroke":{"field":"k","type":"nominal","scale":{"domain":["sell","buy"],"range":["#fb2d45","#1e66e6"]},"legend":null}}},
{"data":{"values":[{"i":6.81,"v":107.052,"t":"106.571","k":"red"},{"i":25.86,"v":107.052,"t":"106.571","k":"blue"}]},"mark":{"type":"text","align":"center","baseline":"middle","font":"Inter","fontSize":13,"fontWeight":600},"encoding":{"x":{"field":"i","type":"quantitative","axis":null},"y":{"field":"v","type":"quantitative"},"text":{"field":"t"},"color":{"field":"k","type":"nominal","scale":{"domain":["red","blue"],"range":["#fb2d45","#1e66e6"]},"legend":null}}},
{"data":{"values":[{"i":6.81,"v":106.871,"t":"SELL","k":"red"},{"i":25.86,"v":106.871,"t":"BUY","k":"blue"}]},"mark":{"type":"text","align":"center","baseline":"middle","font":"Inter","fontSize":11},"encoding":{"x":{"field":"i","type":"quantitative","axis":null},"y":{"field":"v","type":"quantitative"},"text":{"field":"t"},"color":{"field":"k","type":"nominal","scale":{"domain":["red","blue"],"range":["#fb2d45","#1e66e6"]},"legend":null}}},
{"data":{"values":[{"i":16.42,"v":106.965,"t":"0.000"}]},"mark":{"type":"text","align":"center","baseline":"middle","font":"Inter","fontSize":10,"color":"#131722"},"encoding":{"x":{"field":"i","type":"quantitative","axis":null},"y":{"field":"v","type":"quantitative"},"text":{"field":"t"}}},
{"data":{"values":[{"i":3.5,"v":107.386}]},"mark":{"type":"point","filled":true,"size":254,"color":"#d9f0ec","opacity":1},"encoding":{"x":{"field":"i","type":"quantitative","axis":null},"y":{"field":"v","type":"quantitative"}}},
{"data":{"values":[{"i":3.5,"v":107.386}]},"mark":{"type":"point","filled":true,"size":50,"color":"#089981","opacity":1},"encoding":{"x":{"field":"i","type":"quantitative","axis":null},"y":{"field":"v","type":"quantitative"}}},
{"data":{"values":[{"i":7.62,"v":107.386,"t":"O","k":"ink"},{"i":9.4,"v":107.386,"t":"106.594","k":"red"},{"i":18.76,"v":107.386,"t":"H","k":"ink"},{"i":20.62,"v":107.386,"t":"106.604","k":"red"},{"i":29.98,"v":107.386,"t":"L","k":"ink"},{"i":31.43,"v":107.386,"t":"106.542","k":"red"},{"i":40.8,"v":107.386,"t":"C","k":"ink"},{"i":42.41,"v":107.386,"t":"106.571","k":"red"},{"i":51.77,"v":107.386,"t":"−0.062","k":"red"},{"i":59.5,"v":107.386,"t":"(−0.06%)","k":"red"},{"i":1.08,"v":106.552,"t":"MA Cross 200 100","k":"gray"}]},"mark":{"type":"text","align":"left","baseline":"middle","font":"Inter","fontSize":13},"encoding":{"x":{"field":"i","type":"quantitative","axis":null},"y":{"field":"v","type":"quantitative"},"text":{"field":"t"},"color":{"field":"k","type":"nominal","scale":{"domain":["ink","red","gray"],"range":["#131722","#fb2d45","#b2b5be"]},"legend":null}}},
{"data":{"values":[{"i":22.56,"v":106.558}]},"mark":{"type":"point","shape":"M-1,0 Q0,-.9 1,0 Q0,.9 -1,0 Z M-.3,0 a.3,.3 0 1,0 .6,0 a.3,.3 0 1,0 -.6,0 M-.7,.7 L.7,-.7","size":256,"filled":false,"stroke":"#3a3e4a","strokeWidth":1,"opacity":1},"encoding":{"x":{"field":"i","type":"quantitative","axis":null},"y":{"field":"v","type":"quantitative"}}},
{"data":{"values":[{"k":"up"}]},"mark":{"type":"rect","fill":"#ffffff","stroke":"#cfd1da","strokeWidth":1,"cornerRadius":3},"encoding":{"x":{"datum":1.08,"type":"quantitative","axis":null},"x2":{"datum":5.76},"y":{"datum":106.383,"type":"quantitative"},"y2":{"datum":106.12}}},
{"data":{"values":[{"i":3.42,"v":106.25}]},"mark":{"type":"point","shape":"M-1,.5 L0,-.5 L1,.5","size":36,"filled":false,"stroke":"#131722","strokeWidth":1.5,"opacity":1},"encoding":{"x":{"field":"i","type":"quantitative","axis":null},"y":{"field":"v","type":"quantitative"}}}
]},
{"width":1373,"height":239,"view":{"fill":"#ffffff","stroke":null},"resolve":{"scale":{"color":"independent"}},"layer":[
{"data":{"values":[{"k":"band"}]},"mark":{"type":"rect","color":"#f0ebf7"},"encoding":{"x":{"datum":-0.37,"type":"quantitative","scale":{"domain":[-0.37,221.3],"nice":false,"zero":false,"padding":0},"axis":null},"x2":{"datum":206.8},"y":{"datum":70,"type":"quantitative","scale":{"domain":[24.92,86.52],"nice":false,"zero":false},"axis":{"orient":"right","title":null,"values":[80,60,40],"format":".2f","domain":false,"ticks":false,"grid":false,"labelAlign":"left","labelPadding":-77,"labelFont":"Inter","labelFontSize":16,"labelColor":"#131722","labelOverlap":false,"labelBound":false,"labelFlush":false}},"y2":{"datum":30}}},
{"data":{"values":[{"v":80},{"v":60},{"v":40}]},"mark":{"type":"rule","color":"#e8e6ee","strokeWidth":1},"encoding":{"x":{"datum":-0.37,"type":"quantitative","axis":null},"x2":{"datum":206.8},"y":{"field":"v","type":"quantitative"}}},
{"data":{"name":"dates"},"mark":{"type":"rule","color":"#e9e8ee","strokeWidth":1},"encoding":{"x":{"field":"i","type":"quantitative","axis":null}}},
{"data":{"values":[{"v":86.4}]},"mark":{"type":"rule","color":"#e0e3eb","strokeWidth":1},"encoding":{"x":{"datum":-0.37,"type":"quantitative","axis":null},"x2":{"datum":206.8},"y":{"field":"v","type":"quantitative"}}},
{"data":{"values":[{"v":70},{"v":30}]},"mark":{"type":"rule","color":"#6a6d78","strokeWidth":1,"strokeDash":[4,4]},"encoding":{"x":{"datum":-0.37,"type":"quantitative","axis":null},"x2":{"datum":206.8},"y":{"field":"v","type":"quantitative"}}},
{"data":{"values":[{"v":50}]},"mark":{"type":"rule","color":"#aeb0b8","strokeWidth":1,"strokeDash":[4,4]},"encoding":{"x":{"datum":-0.37,"type":"quantitative","axis":null},"x2":{"datum":206.8},"y":{"field":"v","type":"quantitative"}}},
{"data":{"name":"over"},"mark":{"type":"area","color":{"gradient":"linear","x1":0,"y1":0,"x2":0,"y2":1,"stops":[{"offset":0,"color":"#bfe3c8"},{"offset":1,"color":"#ffffff"}]}},"encoding":{"x":{"field":"i","type":"quantitative","axis":null},"y":{"field":"v","type":"quantitative"},"y2":{"datum":70},"detail":{"field":"s"}}},
{"data":{"name":"sma"},"mark":{"type":"line","color":"#ffb74d","strokeWidth":1},"encoding":{"x":{"field":"i","type":"quantitative","axis":null},"y":{"field":"v","type":"quantitative"}}},
{"data":{"name":"rsi"},"mark":{"type":"line","color":"#1f4fc4","strokeWidth":1.2},"encoding":{"x":{"field":"i","type":"quantitative","axis":null},"y":{"field":"v","type":"quantitative"}}},
{"data":{"values":[{"v":55.27,"pos":55.3,"k":"rsi"},{"v":52.49,"pos":49.4,"k":"sma"}]},"mark":{"type":"rect","height":23,"cornerRadius":2},"encoding":{"x":{"datum":207.1,"type":"quantitative","axis":null},"x2":{"datum":216.77},"y":{"field":"pos","type":"quantitative"},"color":{"field":"k","type":"nominal","scale":{"domain":["rsi","sma"],"range":["#0a3fc0","#ffb733"]},"legend":null}}},
{"data":{"values":[{"v":55.27,"pos":55.3,"k":"rsi"},{"v":52.49,"pos":49.4,"k":"sma"}]},"mark":{"type":"text","align":"left","baseline":"middle","font":"Inter","fontSize":16},"encoding":{"x":{"datum":208.8,"type":"quantitative","axis":null},"y":{"field":"pos","type":"quantitative"},"text":{"field":"v","format":".2f"},"color":{"field":"k","type":"nominal","scale":{"domain":["rsi","sma"],"range":["#ffffff","#131722"]},"legend":null}}},
{"data":{"values":[{"i":26.27,"v":82}]},"mark":{"type":"point","filled":true,"size":254,"color":"#ece6fb","opacity":1},"encoding":{"x":{"field":"i","type":"quantitative","axis":null},"y":{"field":"v","type":"quantitative"}}},
{"data":{"values":[{"i":26.27,"v":82}]},"mark":{"type":"point","shape":"M-.8,-.1 A.8,.8 0 0 1 .65,-.5 L.65,-.9 M.65,-.5 L.25,-.5 M.8,.1 A.8,.8 0 0 1 -.65,.5 L-.65,.9 M-.65,.5 L-.25,.5","size":196,"filled":false,"stroke":"#5a35e0","strokeWidth":1.6,"opacity":1},"encoding":{"x":{"field":"i","type":"quantitative","axis":null},"y":{"field":"v","type":"quantitative"}}},
{"data":{"values":[{"i":1.08,"v":82,"t":"RSI","k":"ink"},{"i":5.12,"v":82,"t":"14 close SMA 14 2","k":"gray"},{"i":29,"v":82,"t":"55.27","k":"blue"},{"i":35.95,"v":82,"t":"52.49","k":"orange"}]},"mark":{"type":"text","align":"left","baseline":"middle","font":"Inter","fontSize":13},"encoding":{"x":{"field":"i","type":"quantitative","axis":null},"y":{"field":"v","type":"quantitative"},"text":{"field":"t"},"color":{"field":"k","type":"nominal","scale":{"domain":["ink","gray","blue","orange"],"range":["#3a3e4a","#787b86","#2250c5","#ffb74d"]},"legend":null}}},
{"data":{"values":[{"i":43.2,"v":82,"t":"⊘"},{"i":45.6,"v":82,"t":"⊘"}]},"mark":{"type":"text","align":"left","baseline":"middle","font":"DejaVu Sans","fontSize":10,"color":"#3a3e4a"},"encoding":{"x":{"field":"i","type":"quantitative","axis":null},"y":{"field":"v","type":"quantitative"},"text":{"field":"t"}}}
]},
{"width":1373,"height":185,"view":{"fill":"#ffffff","stroke":null},"resolve":{"scale":{"color":"independent"}},"layer":[
{"data":{"values":[{"v":0.4},{"v":0.2}]},"mark":{"type":"rule","color":"#f0f1f4","strokeWidth":1},"encoding":{"x":{"datum":-0.37,"type":"quantitative","scale":{"domain":[-0.37,221.3],"nice":false,"zero":false,"padding":0},"axis":{"orient":"bottom","title":null,"values":[2,33,64,88,106,126,157,188],"labelExpr":"{2:'14',33:'21',64:'28',88:'Nov',106:'6',126:'11',157:'18',188:'25'}[datum.value]","domain":false,"ticks":false,"grid":false,"labelPadding":-27,"labelFont":"Inter","labelFontSize":16,"labelColor":"#131722","labelOverlap":false,"labelBound":false,"labelFlush":false,"labelFontWeight":{"condition":{"test":"datum.value===88","value":700},"value":400}}},"x2":{"datum":206.8},"y":{"field":"v","type":"quantitative","scale":{"domain":[-0.3788,0.5348],"nice":false,"zero":false},"axis":{"orient":"right","title":null,"values":[0.4],"format":".3f","domain":false,"ticks":false,"grid":false,"labelAlign":"left","labelPadding":-77,"labelFont":"Inter","labelFontSize":16,"labelColor":"#131722","labelOverlap":false,"labelBound":false,"labelFlush":false}}}},
{"data":{"name":"dates"},"mark":{"type":"rule","color":"#f0f1f4","strokeWidth":1},"encoding":{"x":{"field":"i","type":"quantitative"},"y":{"datum":0.5348,"type":"quantitative"},"y2":{"datum":-0.2}}},
{"data":{"values":[{"v":0.532}]},"mark":{"type":"rule","color":"#e0e3eb","strokeWidth":1},"encoding":{"x":{"datum":-0.37,"type":"quantitative"},"x2":{"datum":206.8},"y":{"field":"v","type":"quantitative"}}},
{"data":{"name":"hist"},"mark":{"type":"bar","size":5,"orient":"vertical"},"encoding":{"x":{"field":"i","type":"quantitative"},"y":{"field":"v","type":"quantitative"},"y2":{"datum":0},"color":{"field":"s","type":"nominal","scale":{"domain":["G","L","R","P"],"range":["#089e8c","#a4dbd5","#ff4d55","#ffc6cc"]},"legend":null}}},
{"data":{"values":[{"v":0}]},"mark":{"type":"rule","color":"#aeb0b8","strokeWidth":1,"strokeDash":[4,4]},"encoding":{"x":{"datum":-0.37,"type":"quantitative"},"x2":{"datum":206.8},"y":{"field":"v","type":"quantitative"}}},
{"data":{"name":"macd"},"mark":{"type":"line","color":"#fb3a50","strokeWidth":1.2},"encoding":{"x":{"field":"i","type":"quantitative"},"y":{"field":"v","type":"quantitative"}}},
{"data":{"name":"signal"},"mark":{"type":"line","color":"#1c3f9c","strokeWidth":1.2},"encoding":{"x":{"field":"i","type":"quantitative"},"y":{"field":"v","type":"quantitative"}}},
{"data":{"values":[{"v":0.094,"pos":0.2385,"k":"m"},{"v":0.08,"pos":0.1299,"k":"s"},{"v":0.014,"pos":0.0163,"k":"h"}]},"mark":{"type":"rect","height":22,"cornerRadius":1},"encoding":{"x":{"datum":207.1,"type":"quantitative"},"x2":{"datum":216.77},"y":{"field":"pos","type":"quantitative"},"color":{"field":"k","type":"nominal","scale":{"domain":["m","s","h"],"range":["#fb2d45","#002a8f","#a4dbd5"]},"legend":null}}},
{"data":{"values":[{"v":0.094,"pos":0.2385,"k":"m"},{"v":0.08,"pos":0.1299,"k":"s"},{"v":0.014,"pos":0.0163,"k":"h"}]},"mark":{"type":"text","align":"left","baseline":"middle","font":"Inter","fontSize":16},"encoding":{"x":{"datum":208.8,"type":"quantitative"},"y":{"field":"pos","type":"quantitative"},"text":{"field":"v","format":".3f"},"color":{"field":"k","type":"nominal","scale":{"domain":["m","s","h"],"range":["#ffffff","#ffffff","#131722"]},"legend":null}}},
{"data":{"values":[{"i":34.18,"v":0.448}]},"mark":{"type":"point","filled":true,"size":254,"color":"#ece6fb","opacity":1},"encoding":{"x":{"field":"i","type":"quantitative"},"y":{"field":"v","type":"quantitative"}}},
{"data":{"values":[{"i":34.18,"v":0.448}]},"mark":{"type":"point","shape":"M-.8,-.1 A.8,.8 0 0 1 .65,-.5 L.65,-.9 M.65,-.5 L.25,-.5 M.8,.1 A.8,.8 0 0 1 -.65,.5 L-.65,.9 M-.65,.5 L-.25,.5","size":196,"filled":false,"stroke":"#5a35e0","strokeWidth":1.6,"opacity":1},"encoding":{"x":{"field":"i","type":"quantitative"},"y":{"field":"v","type":"quantitative"}}},
{"data":{"values":[{"i":1.08,"v":0.448,"t":"MACD","k":"ink"},{"i":8.02,"v":0.448,"t":"12 26 close 9 EMA EMA","k":"gray"},{"i":36.9,"v":0.448,"t":"0.014","k":"teal"},{"i":43.9,"v":0.448,"t":"0.094","k":"red"},{"i":50.65,"v":0.448,"t":"0.080","k":"blue"}]},"mark":{"type":"text","align":"left","baseline":"middle","font":"Inter","fontSize":13},"encoding":{"x":{"field":"i","type":"quantitative"},"y":{"field":"v","type":"quantitative"},"text":{"field":"t"},"color":{"field":"k","type":"nominal","scale":{"domain":["ink","gray","teal","red","blue"],"range":["#3a3e4a","#787b86","#a4dbd5","#fb2d45","#1c3f9c"]},"legend":null}}},
{"data":{"values":[{"i":3.99,"v":-0.095}]},"mark":{"type":"point","shape":"M-.98,-.48 L-.13,-.48 L-.13,.48 L-.53,.48 L-.53,-.08 L-.98,-.08 Z M-.02,-.25 a.18,.18 0 1,0 .36,0 a.18,.18 0 1,0 -.36,0 Z M.49,-.48 L.98,-.48 L.58,.48 L.04,.48 Z","size":900,"filled":true,"color":"#131722","opacity":1},"encoding":{"x":{"field":"i","type":"quantitative"},"y":{"field":"v","type":"quantitative"}}},
{"data":{"values":[{"i":214.2,"v":-0.29}]},"mark":{"type":"point","shape":"M-.5,-.87 L.5,-.87 L1,0 L.5,.87 L-.5,.87 L-1,0 Z M-.35,0 a.35,.35 0 1,0 .7,0 a.35,.35 0 1,0 -.7,0","size":196,"filled":false,"stroke":"#131722","strokeWidth":1.2,"opacity":1},"encoding":{"x":{"field":"i","type":"quantitative"},"y":{"field":"v","type":"quantitative"}}}
]}
]}
